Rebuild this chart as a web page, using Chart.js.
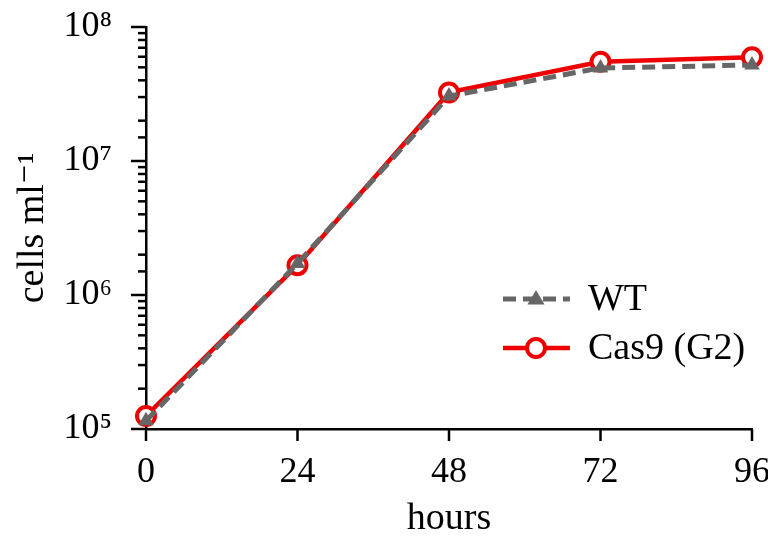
<!DOCTYPE html>
<html>
<head>
<meta charset="utf-8">
<script src="https://cdn.jsdelivr.net/npm/chart.js@4.4.1/dist/chart.umd.min.js"></script>
<style>
  html, body { margin: 0; padding: 0; background: #fff; }
  #wrap { width: 768px; height: 538px; }
</style>
</head>
<body>
<div id="wrap"><canvas id="growthChart"></canvas></div>
<script>
const hours = [0, 24, 48, 72, 96];
const wtCells = [1.15e5, 1.72e6, 3.05e7, 4.95e7, 5.2e7];
const cas9Cells = [1.25e5, 1.67e6, 3.25e7, 5.5e7, 5.95e7];
const yTickLabels = { 5: '10⁵', 6: '10⁶', 7: '10⁷', 8: '10⁸' };

const serif = "'Liberation Serif', 'DejaVu Serif', serif";
const fontSize = 38;
const tickSize = 36;
const grey = '#666666';
const red = '#ee0000';

// outward tick marks, long for majors and short for minors
const tickMarks = {
  id: 'tickMarks',
  afterDraw(chart) {
    const c = chart.ctx;
    const x = chart.scales.x;
    const y = chart.scales.y;
    c.save();
    c.strokeStyle = '#000';
    c.lineWidth = 2.5;
    y.ticks.forEach(t => {
      const py = y.getPixelForValue(t.value);
      const major = Math.abs(Math.log10(t.value) - Math.round(Math.log10(t.value))) < 1e-9;
      const len = major ? 15 : 8;
      c.beginPath();
      c.moveTo(y.right, py);
      c.lineTo(y.right - len, py);
      c.stroke();
    });
    x.ticks.forEach(t => {
      const px = x.getPixelForValue(t.value);
      c.beginPath();
      c.moveTo(px, x.top);
      c.lineTo(px, x.top + 12);
      c.stroke();
    });
    c.restore();
  }
};

// legend with line sample and marker
const lineLegend = {
  id: 'lineLegend',
  afterDraw(chart) {
    const c = chart.ctx;
    const rows = [
      { label: 'WT', ds: chart.data.datasets[0], y: 299 },
      { label: 'Cas9 (G2)', ds: chart.data.datasets[1], y: 348 },
    ];
    c.save();
    rows.forEach(r => {
      c.strokeStyle = r.ds.borderColor;
      c.lineWidth = r.ds.borderWidth;
      c.setLineDash(r.ds.borderDash || []);
      c.beginPath();
      c.moveTo(503, r.y);
      c.lineTo(570, r.y);
      c.stroke();
      c.setLineDash([]);
      c.fillStyle = r.ds.pointBackgroundColor;
      c.strokeStyle = r.ds.pointBorderColor;
      c.lineWidth = r.ds.pointBorderWidth;
      c.beginPath();
      if (r.ds.pointStyle === 'circle') {
        c.arc(536, r.y, r.ds.pointRadius, 0, Math.PI * 2);
      } else {
        const rad = r.ds.pointRadius;
        c.moveTo(536, r.y - rad);
        c.lineTo(536 + rad * 0.95, r.y + rad * 0.6);
        c.lineTo(536 - rad * 0.95, r.y + rad * 0.6);
        c.closePath();
      }
      c.fill();
      if (r.ds.pointBorderWidth) c.stroke();
      c.fillStyle = '#000';
      c.font = fontSize + 'px ' + serif;
      c.textBaseline = 'middle';
      c.fillText(r.label, 588, r.y + 1);
    });
    c.restore();
  }
};

new Chart(document.getElementById('growthChart'), {
  type: 'line',
  data: {
    datasets: [
      {
        label: 'WT',
        data: hours.map((h, i) => ({ x: h, y: wtCells[i] })),
        borderColor: grey,
        borderWidth: 5,
        borderDash: [13, 7],
        pointStyle: 'triangle',
        pointRadius: 9,
        pointBorderWidth: 0,
        pointBackgroundColor: grey,
        pointBorderColor: grey,
        clip: false,
      },
      {
        label: 'Cas9 (G2)',
        data: hours.map((h, i) => ({ x: h, y: cas9Cells[i] })),
        borderColor: red,
        borderWidth: 4.5,
        pointStyle: 'circle',
        pointRadius: 9,
        pointBorderWidth: 4,
        pointBackgroundColor: '#ffffff',
        pointBorderColor: red,
        clip: false,
      },
    ]
  },
  options: {
    responsive: true,
    maintainAspectRatio: false,
    animation: false,
    layout: {
      padding: { top: 27, right: 16, left: 0, bottom: 0 }
    },
    plugins: {
      legend: { display: false },
      tooltip: { enabled: false },
    },
    scales: {
      x: {
        type: 'linear',
        min: 0,
        max: 96,
        afterFit: s => {
          s.height = 109;
          s.paddingLeft = 0;
          s.paddingRight = 0;
        },
        grid: { display: false },
        border: { display: true, color: '#000', width: 2.5 },
        ticks: {
          stepSize: 24,
          padding: 14,
          color: '#000',
          font: { family: serif, size: tickSize },
        },
        title: {
          display: true,
          text: 'hours',
          color: '#000',
          font: { family: serif, size: fontSize, lineHeight: 1 },
          padding: { top: 0, bottom: 0 },
        },
      },
      y: {
        type: 'logarithmic',
        min: 1e5,
        max: 1e8,
        afterFit: s => {
          s.width = 146;
          s.paddingTop = 0;
          s.paddingBottom = 0;
        },
        grid: { display: false },
        border: { display: true, color: '#000', width: 2.5 },
        ticks: {
          autoSkip: false,
          padding: 26,
          color: '#000',
          font: { family: serif, size: tickSize },
          callback: v => {
            const e = Math.log10(v);
            return Math.abs(e - Math.round(e)) < 1e-9 ? yTickLabels[Math.round(e)] : '';
          },
        },
        title: {
          display: true,
          text: 'cells ml⁻¹',
          color: '#000',
          font: { family: serif, size: fontSize },
          padding: { top: 10, bottom: 0 },
        },
      }
    }
  },
  plugins: [tickMarks, lineLegend]
});
</script>
</body>
</html>
